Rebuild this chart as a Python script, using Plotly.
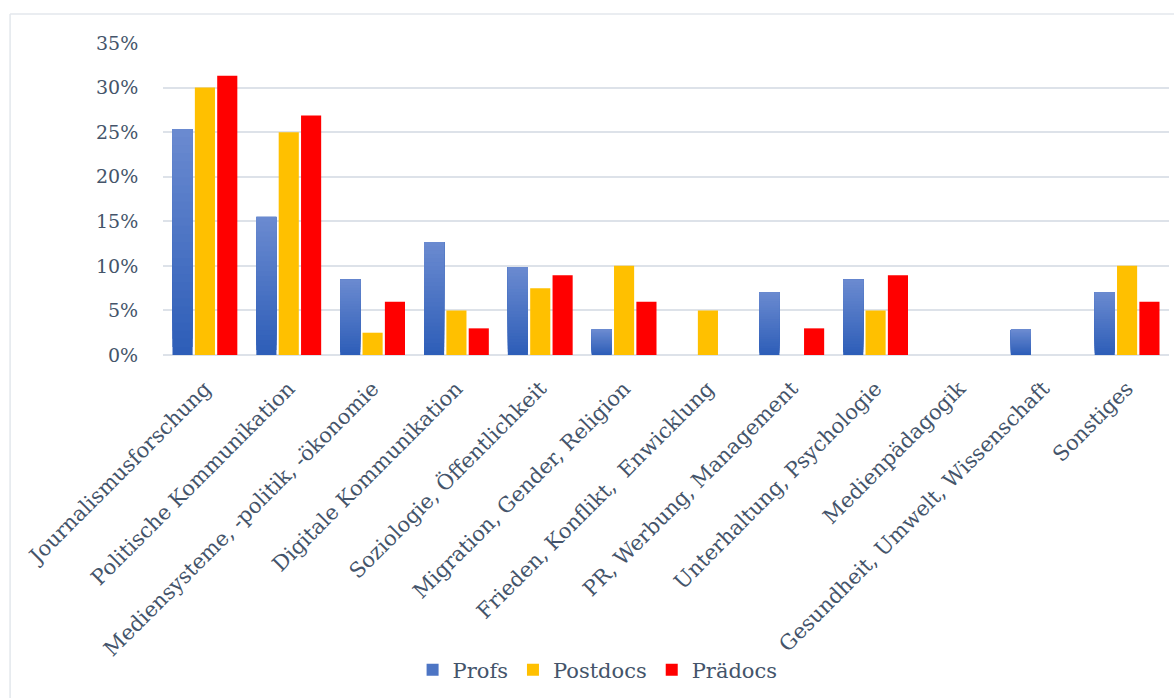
import plotly.graph_objects as go

# Research fields and share of respondents per career stage (in %)
categories = [
    "Journalismusforschung",
    "Politische Kommunikation",
    "Mediensysteme, -politik, -ökonomie",
    "Digitale Kommunikation",
    "Soziologie, Öffentlichkeit",
    "Migration, Gender, Religion",
    "Frieden, Konflikt,  Enwicklung",
    "PR, Werbung, Management",
    "Unterhaltung, Psychologie",
    "Medienpädagogik",
    "Gesundheit, Umwelt, Wissenschaft",
    "Sonstiges",
]
profs = [25.35, 15.49, 8.45, 12.68, 9.86, 2.82, 0.0, 7.04, 8.45, 0.0, 2.82, 7.04]
postdocs = [30.0, 25.0, 2.5, 5.0, 7.5, 10.0, 5.0, 0.0, 5.0, 0.0, 0.0, 10.0]
praedocs = [31.34, 26.87, 5.97, 2.99, 8.96, 5.97, 0.0, 2.99, 8.96, 0.0, 0.0, 5.97]

y_ticks = [0, 5, 10, 15, 20, 25, 30, 35]
y_tick_labels = ["0%", "5%", "10%", "15%", "20%", "25%", "30%", "35%"]

TEXT = "#44546A"
GRID = "#DDE2E9"
FONT = "DejaVu Serif"

fig = go.Figure()

# Profs bars with a vertical gradient: each layer starts a bit higher up the
# bar and is a bit lighter, so every bar fades from dark (bottom) to light (top).
N = 28
dark = (46, 94, 184)
light = (106, 138, 208)
for i in range(N):
    t = i / (N - 1)
    col = "rgb({},{},{})".format(*[round(d + (l - d) * t) for d, l in zip(dark, light)])
    bases = [v * i / N for v in profs]
    heights = [v - b for v, b in zip(profs, bases)]
    fig.add_trace(go.Bar(
        x=categories, y=heights, base=bases,
        name="Profs", offsetgroup="profs",
        marker=dict(color=col, line=dict(width=0)),
        showlegend=(i == N // 2), legendrank=1,
        hoverinfo="skip" if i else None,
    ))

fig.add_trace(go.Bar(x=categories, y=postdocs, name="Postdocs", offsetgroup="postdocs",
                     marker=dict(color="#FFC000", line=dict(width=0)), legendrank=2))
fig.add_trace(go.Bar(x=categories, y=praedocs, name="Prädocs", offsetgroup="praedocs",
                     marker=dict(color="#FF0000", line=dict(width=0)), legendrank=3))

fig.update_layout(
    width=1174, height=698,
    margin=dict(l=163, r=5, t=43, b=343),
    paper_bgcolor="white", plot_bgcolor="white",
    barmode="group", bargap=0.2, bargroupgap=0.1,
    font=dict(family=FONT, color=TEXT, size=18),
    legend=dict(orientation="h", x=0.432, xanchor="center", y=-1.01, yanchor="middle",
                font=dict(family=FONT, size=21, color=TEXT), itemwidth=30,
                traceorder="normal"),
    xaxis=dict(
        tickangle=-45, tickfont=dict(family=FONT, size=21, color=TEXT),
        showgrid=False, showline=False, ticks="outside", ticklen=12, tickcolor="rgba(0,0,0,0)",
    ),
    yaxis=dict(
        range=[0, 35], tickmode="array", tickvals=y_ticks, ticktext=y_tick_labels,
        tickfont=dict(family=FONT, size=19, color=TEXT),
        showgrid=True, gridcolor=GRID, gridwidth=1.6,
        zeroline=True, zerolinecolor=GRID, zerolinewidth=1.6,
        ticks="outside", ticklen=20, tickcolor="rgba(0,0,0,0)",
    ),
    shapes=[
        # chart-area frame
        dict(type="line", xref="paper", yref="paper", x0=-0.152, x1=1.01, y0=1.093, y1=1.093,
             line=dict(color="#E3E7EC", width=1.5)),
        dict(type="line", xref="paper", yref="paper", x0=-0.152, x1=-0.152, y0=1.093, y1=-1.2,
             line=dict(color="#E3E7EC", width=1.5)),
    ],
)

fig.write_html("out.html")
